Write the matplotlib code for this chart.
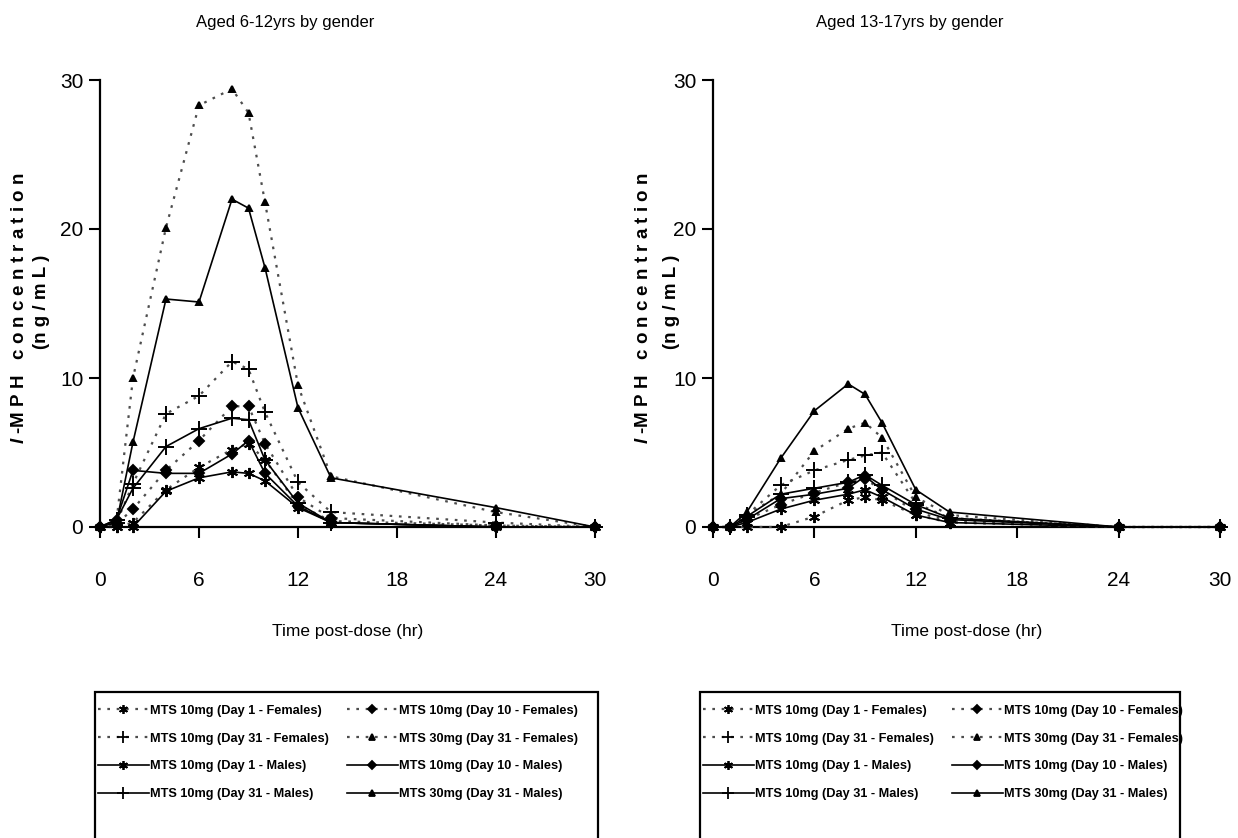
import numpy as np
import matplotlib
matplotlib.use("Agg")
import matplotlib.pyplot as plt
from matplotlib.lines import Line2D
from matplotlib.patches import Rectangle

plt.rcParams['font.family'] = ['Liberation Sans', 'DejaVu Sans']
plt.rcParams['mathtext.fontset'] = 'custom'
plt.rcParams['mathtext.it'] = 'Liberation Sans:italic:bold'
plt.rcParams['mathtext.rm'] = 'Liberation Sans:bold'

# sampling times (hr)
hours = [0, 1, 2, 4, 6, 8, 9, 10, 12, 14, 24, 30]

series_labels = [
    "MTS 10mg (Day 1 - Females)", "MTS 10mg (Day 10 - Females)",
    "MTS 10mg (Day 31 - Females)", "MTS 30mg (Day 31 - Females)",
    "MTS 10mg (Day 1 - Males)", "MTS 10mg (Day 10 - Males)",
    "MTS 10mg (Day 31 - Males)", "MTS 30mg (Day 31 - Males)",
]

# l-MPH mean concentrations (ng/mL), aged 6-12
kids_d1_f = [0, 0, 0.3, 2.5, 4.0, 5.2, 5.6, 4.5, 1.5, 0.4, 0.1, 0]
kids_d10_f = [0, 0.2, 1.2, 3.8, 5.8, 8.1, 8.1, 5.6, 2.0, 0.6, 0.1, 0]
kids_d31_f = [0, 0.3, 2.9, 7.6, 8.8, 11.1, 10.6, 7.7, 3.0, 1.0, 0.3, 0]
kids_30_f = [0, 0.4, 10.0, 20.1, 28.3, 29.4, 27.8, 21.8, 9.5, 3.4, 1.0, 0]
kids_d1_m = [0, 0, 0, 2.4, 3.3, 3.7, 3.6, 3.1, 1.3, 0.3, 0, 0]
kids_d10_m = [0, 0.5, 3.8, 3.6, 3.6, 4.9, 5.8, 3.6, 1.4, 0.3, 0, 0]
kids_d31_m = [0, 0.5, 2.6, 5.4, 6.6, 7.3, 7.2, 4.5, 1.6, 0.3, 0, 0]
kids_30_m = [0, 0.3, 5.7, 15.3, 15.1, 22.0, 21.4, 17.4, 8.0, 3.3, 1.3, 0]

# aged 13-17
teen_d1_f = [0, 0, 0, 0, 0.7, 1.8, 2.0, 1.8, 0.8, 0.3, 0, 0]
teen_d10_f = [0, 0, 0.5, 1.5, 2.3, 3.0, 3.2, 2.5, 1.0, 0.4, 0, 0]
teen_d31_f = [0, 0, 0.8, 2.8, 3.8, 4.5, 4.8, 5.0, 1.6, 0.6, 0, 0]
teen_30_f = [0, 0, 0.8, 2.2, 5.1, 6.6, 7.0, 6.0, 2.0, 0.8, 0, 0]
teen_d1_m = [0, 0, 0.3, 1.2, 1.8, 2.2, 2.5, 2.0, 0.8, 0.3, 0, 0]
teen_d10_m = [0, 0, 0.5, 1.9, 2.2, 2.6, 3.4, 2.5, 1.2, 0.5, 0, 0]
teen_d31_m = [0, 0, 0.7, 2.2, 2.6, 3.0, 3.5, 2.8, 1.5, 0.6, 0, 0]
teen_30_m = [0, 0, 1.0, 4.6, 7.8, 9.6, 8.9, 7.0, 2.5, 1.0, 0, 0]

kids = [kids_d1_f, kids_d10_f, kids_d31_f, kids_30_f,
        kids_d1_m, kids_d10_m, kids_d31_m, kids_30_m]
teens = [teen_d1_f, teen_d10_f, teen_d31_f, teen_30_f,
         teen_d1_m, teen_d10_m, teen_d31_m, teen_30_m]

star = (6, 2, 0)
markers = [star, 'D', '+', '^'] * 2
msizes = [8, 5, 11, 5] * 2
dotted = (0, (1.2, 3))
styles = [dict(ls=dotted, color='0.3', lw=1.6)] * 4 + [dict(ls='-', color='black', lw=1.2)] * 4

fig = plt.figure(figsize=(12.38, 8.38), dpi=100)
W, H = 1238.0, 838.0
ax1 = fig.add_axes([100 / W, 1 - 527 / H, 495 / W, 447 / H])
ax2 = fig.add_axes([713 / W, 1 - 527 / H, 507 / W, 447 / H])


def draw_panel(ax, data):
    for vals, mk, ms, st in zip(data, markers, msizes, styles):
        ax.plot(hours, vals, marker=mk, ms=ms, mec='black', mfc='black',
                mew=1.4, clip_on=False, zorder=3, **st)
    ax.set_xlim(0, 30)
    ax.set_ylim(0, 30)
    ax.set_xticks([0, 6, 12, 18, 24, 30])
    ax.set_yticks([0, 10, 20, 30])
    for s in ['top', 'right']:
        ax.spines[s].set_visible(False)
    for s in ['left', 'bottom']:
        ax.spines[s].set_linewidth(1.6)
    ax.tick_params(axis='x', direction='out', length=8, width=1.5, pad=24, labelsize=15)
    ax.tick_params(axis='y', direction='out', length=8, width=1.5, pad=4, labelsize=15)
    ax.set_xlabel("Time post-dose (hr)", fontsize=12.5, labelpad=24)


draw_panel(ax1, kids)
draw_panel(ax2, teens)

fig.text(285 / W, 1 - 22 / H, "Aged 6-12yrs by gender", ha='center', va='center', fontsize=12)
fig.text(910 / W, 1 - 22 / H, "Aged 13-17yrs by gender", ha='center', va='center', fontsize=12)

ylab1 = r"$\it{l}$ -M P H   c o n c e n t r a t i o n"
ylab2 = "(n g / m L )"
for x1, x2 in ((20, 41), (643, 671)):
    fig.text(x1 / W, 1 - 308 / H, ylab1, rotation=90, ha='center', va='center',
             fontsize=13.5, fontweight='bold')
    fig.text(x2 / W, 1 - 302 / H, ylab2, rotation=90, ha='center', va='center',
             fontsize=13.5, fontweight='bold')

# legend handles, ordered so ncol=2 fills rows left to right
handles = []
for mk, ms, st, lab in zip(markers, msizes, styles, series_labels):
    handles.append(Line2D([], [], marker=mk, ms=ms * 0.8, mec='black', mfc='black',
                          mew=1.3, label=lab, **st))
order = [0, 2, 4, 6, 1, 3, 5, 7]
hs = [handles[i] for i in order]

for x0, x1 in ((95, 598), (700, 1180)):
    fig.patches.append(Rectangle((x0 / W, -0.05), (x1 - x0) / W, (1 - 692 / H) + 0.05,
                                 transform=fig.transFigure, fill=False,
                                 edgecolor='black', lw=1.6))
    fig.legend(handles=hs, ncol=2, loc='upper left', frameon=False,
               bbox_to_anchor=(x0 / W, 1 - 702 / H),
               prop={'weight': 'bold', 'size': 9.2}, handlelength=4.0,
               handletextpad=0.1, columnspacing=1.4, labelspacing=1.25,
               borderpad=0.2, borderaxespad=0)

fig.savefig("out.png", dpi=100)
